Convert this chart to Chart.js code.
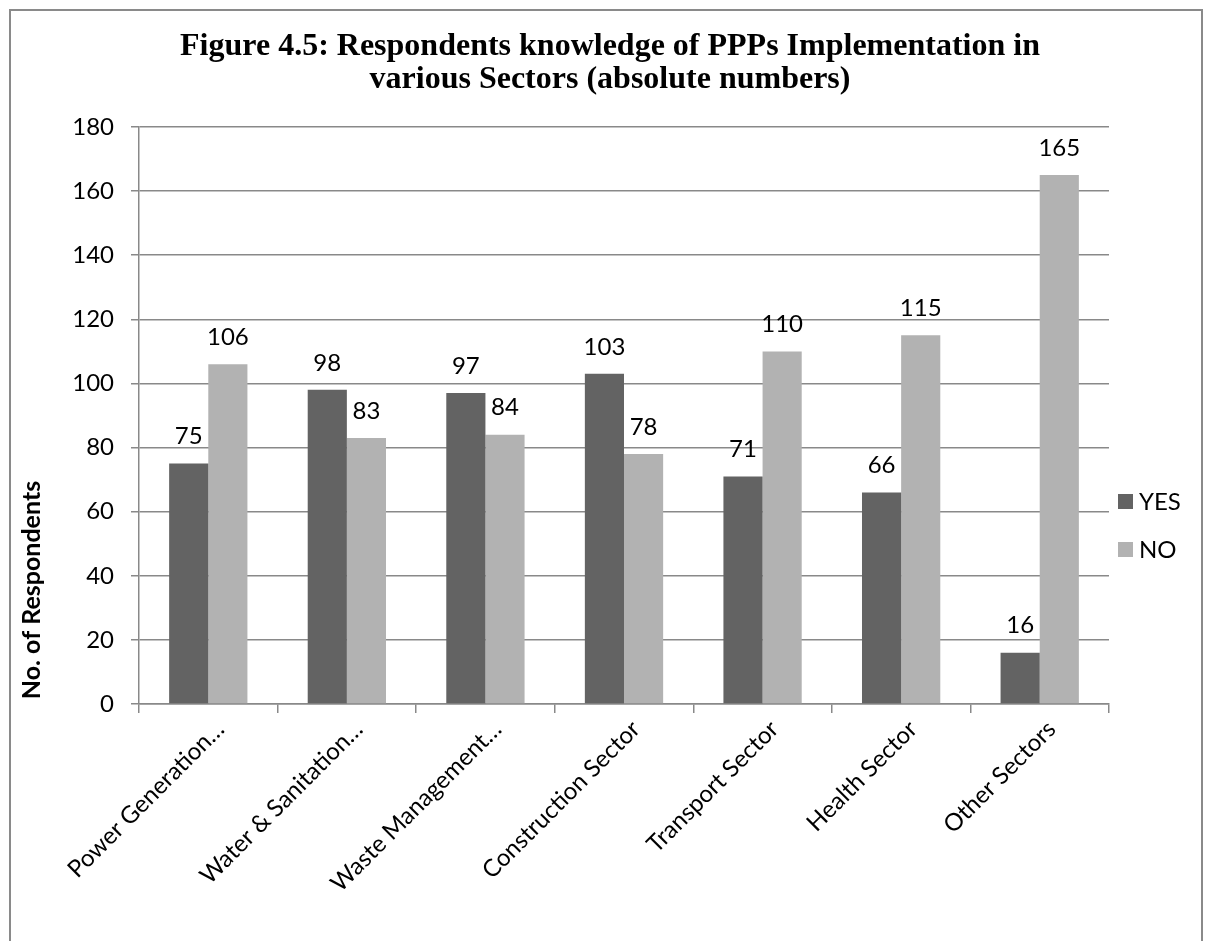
<!DOCTYPE html>
<html>
<head>
<meta charset="utf-8">
<script src="https://cdn.jsdelivr.net/npm/chart.js@4"></script>
<style>
  html, body { margin: 0; padding: 0; background: #fff; }
  #wrap { position: relative; width: 1206px; height: 941px; }
  #frame {
    position: absolute; left: 9px; top: 9px; width: 1194px; height: 940px;
    box-sizing: border-box; border: 2px solid #8a8a8a; border-bottom: none;
    pointer-events: none;
  }
</style>
</head>
<body>
<div id="wrap">
  <canvas id="chart" width="1206" height="941"></canvas>
  <div id="frame"></div>
</div>
<script>
// Chart data
const categories = [
  'Power Generation…',
  'Water & Sanitation…',
  'Waste Management…',
  'Construction Sector',
  'Transport Sector',
  'Health Sector',
  'Other Sectors',
];
const yesValues = [75, 98, 97, 103, 71, 66, 16];
const noValues = [106, 83, 84, 78, 110, 115, 165];
const seriesNames = ['YES', 'NO'];
const titleLines = [
  'Figure 4.5: Respondents knowledge of PPPs Implementation in',
  'various Sectors (absolute numbers)',
];
const yAxisTitle = 'No. of Respondents';

const LABEL_FONT = 'Lato, "Open Sans", sans-serif';
const GRID = '#898989';

/**
 * Two-line chart title, centred over the whole frame
 */
const frameTitle = {
  id: 'frameTitle',
  afterDraw(chart) {
    const { ctx } = chart;
    ctx.save();
    ctx.font = 'bold 32px "Liberation Serif", "Times New Roman", serif';
    ctx.fillStyle = '#000';
    ctx.textAlign = 'center';
    ctx.textBaseline = 'alphabetic';
    titleLines.forEach((line, i) => {
      ctx.fillText(line, 610, 55 + i * 33);
    });
    ctx.restore();
  },
};

/**
 * Value labels above each bar
 */
const barLabels = {
  id: 'barLabels',
  afterDatasetsDraw(chart) {
    const { ctx } = chart;
    ctx.save();
    ctx.font = `24px ${LABEL_FONT}`;
    ctx.fillStyle = '#000';
    ctx.textAlign = 'center';
    ctx.textBaseline = 'middle';
    chart.data.datasets.forEach((ds, i) => {
      chart.getDatasetMeta(i).data.forEach((bar, j) => {
        ctx.fillText(String(ds.data[j]), bar.x, bar.y - 27);
      });
    });
    ctx.restore();
  },
};

/**
 * Rotated y-axis title, placed like the original
 */
const yTitle = {
  id: 'yTitle',
  afterDraw(chart) {
    const { ctx } = chart;
    ctx.save();
    ctx.translate(32, 590);
    ctx.rotate(-Math.PI / 2);
    ctx.font = `bold 25px ${LABEL_FONT}`;
    ctx.fillStyle = '#000';
    ctx.textAlign = 'center';
    ctx.textBaseline = 'middle';
    ctx.fillText(yAxisTitle, 0, 0);
    ctx.restore();
  },
};

/**
 * Legend on the right, vertically where the original has it
 */
const sideLegend = {
  id: 'sideLegend',
  afterDraw(chart) {
    const { ctx, chartArea } = chart;
    const x = chartArea.right + 9;
    const firstY = 501.5;
    ctx.save();
    ctx.font = `24px ${LABEL_FONT}`;
    ctx.textBaseline = 'middle';
    ctx.textAlign = 'left';
    chart.data.datasets.forEach((ds, i) => {
      const y = firstY + i * 48;
      ctx.fillStyle = ds.backgroundColor;
      ctx.fillRect(x, y - 7.5, 15, 15);
      ctx.fillStyle = '#000';
      ctx.fillText(ds.label, x + 21, y + 1);
    });
    ctx.restore();
  },
};

new Chart(document.getElementById('chart'), {
  type: 'bar',
  data: {
    labels: categories,
    datasets: [
      { label: seriesNames[0], data: yesValues, backgroundColor: '#636363' },
      { label: seriesNames[1], data: noValues, backgroundColor: '#b2b2b2' },
    ],
  },
  options: {
    responsive: false,
    animation: false,
    devicePixelRatio: 1,
    categoryPercentage: 0.565,
    barPercentage: 1,
    layout: { padding: { left: 14, right: 97, top: 127, bottom: 0 } },
    plugins: {
      legend: { display: false },
      tooltip: { enabled: false },
      title: { display: false },
    },
    scales: {
      x: {
        afterFit(scale) { scale.height = 237; },
        grid: { offset: true, drawOnChartArea: false, drawTicks: true, tickLength: 9, color: GRID, lineWidth: 1.5 },
        border: { color: GRID, width: 1.5 },
        ticks: {
          minRotation: 45,
          maxRotation: 45,
          autoSkip: false,
          labelOffset: 12,
          padding: 2,
          color: '#000',
          font: { family: LABEL_FONT, size: 24 },
        },
      },
      y: {
        min: 0,
        max: 180,
        afterFit(scale) { scale.width = 125; },
        grid: { color: GRID, lineWidth: 1.5, tickLength: 8 },
        border: { color: GRID, width: 1.5 },
        ticks: {
          stepSize: 20,
          padding: 17,
          color: '#000',
          font: { family: LABEL_FONT, size: 24 },
        },
      },
    },
  },
  plugins: [frameTitle, barLabels, yTitle, sideLegend],
});
</script>
</body>
</html>
